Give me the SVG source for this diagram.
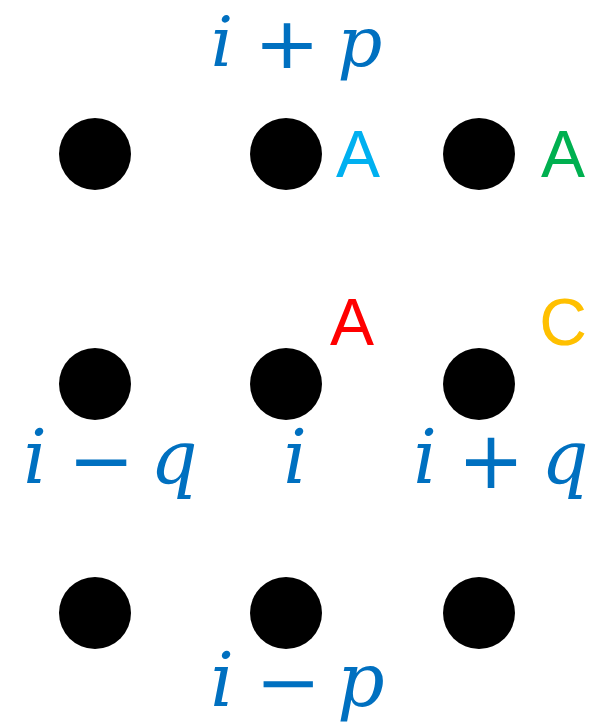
<svg xmlns="http://www.w3.org/2000/svg" width="593" height="726" viewBox="0 0 593 726">
<style>
.dot{fill:#000}
.m{font-family:"DejaVu Serif",serif;font-style:italic;font-size:74px;fill:#0070C0;text-anchor:middle}
.op{font-family:"DejaVu Sans",sans-serif;font-size:80px;fill:#0070C0;text-anchor:middle}
.lt{font-family:"Liberation Sans",Arial,sans-serif;font-size:66px;text-anchor:middle}
.top{font-size:70px}
.sm{font-size:72px}
</style>
<rect width="593" height="726" fill="#fff"/>
<g id="n00"><circle class="dot" cx="95" cy="154" r="36"/></g>
<g id="n01"><circle class="dot" cx="286" cy="154" r="36"/></g>
<g id="n02"><circle class="dot" cx="479" cy="154" r="36"/></g>
<g id="n10"><circle class="dot" cx="95" cy="384" r="36"/></g>
<g id="n11"><circle class="dot" cx="286" cy="384" r="36"/></g>
<g id="n12"><circle class="dot" cx="479" cy="384" r="36"/></g>
<g id="n20"><circle class="dot" cx="95" cy="613" r="36"/></g>
<g id="n21"><circle class="dot" cx="286" cy="613" r="36"/></g>
<g id="n22"><circle class="dot" cx="479" cy="613" r="36"/></g>
<g id="label-ip"><text class="m top" x="222" y="66">i</text><text class="op sm" x="287" y="68" textLength="66" lengthAdjust="spacingAndGlyphs">+</text><text class="m top" x="360" y="66">p</text></g>
<g id="label-imq"><text class="m" x="35" y="483">i</text><text class="op" x="101" y="488">−</text><text class="m" x="174" y="483">q</text></g>
<g id="label-i"><text class="m" x="295" y="483">i</text></g>
<g id="label-ipq"><text class="m" x="425" y="483">i</text><text class="op" x="491" y="488">+</text><text class="m" x="565" y="483">q</text></g>
<g id="label-imp"><text class="m" x="222" y="706">i</text><text class="op sm" x="288" y="707" textLength="66" lengthAdjust="spacingAndGlyphs">−</text><text class="m" x="361" y="706">p</text></g>
<g id="tags">
<text class="lt" x="358" y="177" fill="#00B0F0">A</text>
<text class="lt" x="563" y="177" fill="#00B050">A</text>
<text class="lt" x="352" y="345" fill="#FF0000">A</text>
<text class="lt" x="563" y="345" fill="#FFC000">C</text>
</g>
<g id="connectors"/>
</svg>
